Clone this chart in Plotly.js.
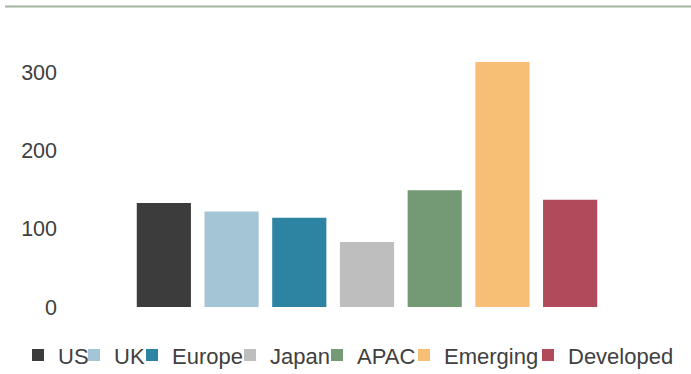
<!DOCTYPE html>
<html>
<head>
<meta charset="utf-8">
<script src="https://cdn.plot.ly/plotly-3.0.1.min.js"></script>
<style>html,body{margin:0;padding:0;background:#fff;}#chart{width:691px;height:374px;}</style>
</head>
<body>
<div id="chart"></div>
<script>
// Data
var categories = ["US", "UK", "Europe", "Japan", "APAC", "Emerging", "Developed"];
var values = [133, 122, 114, 83, 149, 313, 137];
var yTicks = [0, 100, 200, 300];

// Styles
var colors = ["#3c3c3c", "#a3c5d6", "#2c84a2", "#bebebe", "#739a74", "#f7be76", "#b14b5b"];
var legendLeftPx = [18, 74, 132, 230, 317, 404, 528];
var W = 691, H = 374;
var textColor = "#404040";
var fontFamily = "Liberation Sans, Arial, sans-serif";

var traces = categories.map(function (c, i) {
  return {
    type: "bar",
    x: [c],
    y: [values[i]],
    name: c,
    marker: { color: colors[i] },
    legend: i === 0 ? "legend" : "legend" + (i + 1),
    hoverinfo: "skip"
  };
});

var margin = { l: 130, r: 87, t: 33, b: 66.5, pad: 0 };
var plotW = W - margin.l - margin.r;
var plotH = H - margin.t - margin.b;

var layout = {
  width: W,
  height: H,
  margin: margin,
  paper_bgcolor: "#ffffff",
  plot_bgcolor: "#ffffff",
  barmode: "overlay",
  bargap: 0.2,
  font: { family: fontFamily, color: textColor, size: 21 },
  xaxis: {
    type: "category",
    categoryorder: "array",
    categoryarray: categories,
    showticklabels: false,
    showgrid: false,
    zeroline: false,
    showline: false,
    ticks: ""
  },
  yaxis: {
    range: [0, 350],
    tickvals: yTicks,
    ticktext: yTicks.map(String),
    showgrid: false,
    zeroline: false,
    showline: false,
    ticks: "",
    ticklabelstandoff: 72,
    tickfont: { size: 21.5, color: textColor, family: fontFamily }
  },
  shapes: [{
    type: "line",
    xref: "paper", yref: "paper",
    x0: (5 - margin.l) / plotW, x1: (W - margin.l) / plotW,
    y0: (H - margin.b - 6.5) / plotH, y1: (H - margin.b - 6.5) / plotH,
    line: { color: "#9fb59c", width: 2 }
  }],
  showlegend: true
};

categories.forEach(function (c, i) {
  var key = i === 0 ? "legend" : "legend" + (i + 1);
  layout[key] = {
    orientation: "h",
    xref: "container", yref: "container",
    x: legendLeftPx[i] / W,
    y: 1 - 355.3 / H,
    xanchor: "left",
    yanchor: "middle",
    bgcolor: "rgba(0,0,0,0)",
    borderwidth: 0,
    font: { size: 22, color: textColor, family: fontFamily }
  };
});

Plotly.newPlot("chart", traces, layout, { staticPlot: true, displayModeBar: false });
</script>
</body>
</html>
